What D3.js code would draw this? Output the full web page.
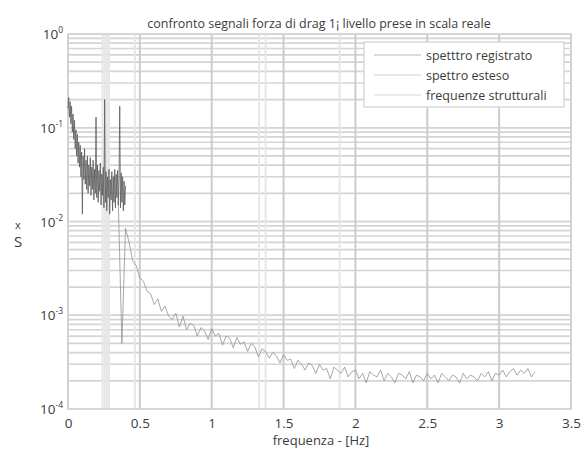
<!DOCTYPE html>
<meta charset="utf-8">
<style>
body { margin: 0; background: #fff; }
svg { display: block; }
text { font-family: "Open Sans", "Liberation Sans", sans-serif; fill: #3c3c3c; }
</style>
<body>
<script src="https://cdn.jsdelivr.net/npm/d3@7"></script>
<script>

// recorded spectrum (0 - 0.4 Hz)
var recFreq = [0,0.005,0.01,0.015,0.02,0.025,0.03,0.035,0.04,0.045,0.05,0.055,0.06,0.065,0.07,0.075,0.08,0.085,0.09,0.095,
  0.1,0.105,0.11,0.115,0.12,0.125,0.13,0.135,0.14,0.145,0.15,0.155,0.16,0.165,0.17,0.175,0.18,0.185,0.19,0.195,
  0.2,0.205,0.21,0.215,0.22,0.225,0.23,0.235,0.24,0.245,0.25,0.255,0.26,0.265,0.27,0.275,0.28,0.285,0.29,0.295,
  0.3,0.305,0.31,0.315,0.32,0.325,0.33,0.335,0.34,0.345,0.35,0.355,0.36,0.365,0.37,0.375,0.38,0.385,0.39,0.395,0.4];
var recVal = [0.16,0.21,0.13,0.19,0.11,0.17,0.09,0.14,0.075,0.12,0.06,0.095,0.05,0.085,0.042,0.07,0.038,0.065,0.03,0.055,
  0.012,0.05,0.028,0.06,0.025,0.045,0.022,0.05,0.02,0.04,0.024,0.048,0.019,0.038,0.022,0.045,0.017,0.036,0.02,0.13,
  0.018,0.04,0.016,0.035,0.021,0.042,0.015,0.032,0.019,0.038,0.014,0.2,0.016,0.034,0.013,0.03,0.018,0.036,0.012,0.028,
  0.017,0.034,0.013,0.03,0.016,0.036,0.014,0.032,0.018,0.035,0.015,0.03,0.17,0.014,0.033,0.016,0.03,0.013,0.027,0.015,0.024];

// extended spectrum (0.35 - 3.25 Hz)
var extFreq = [0.35,0.375,0.4,0.425,0.45,0.475,0.5,0.525,0.55,0.575,0.6,0.625,0.65,0.675,0.7,0.725,0.75,0.775,0.8,0.825,
  0.85,0.875,0.9,0.925,0.95,0.975,1,1.025,1.05,1.075,1.1,1.125,1.15,1.175,1.2,1.225,1.25,1.275,1.3,1.325,
  1.35,1.375,1.4,1.425,1.45,1.475,1.5,1.525,1.55,1.575,1.6,1.625,1.65,1.675,1.7,1.725,1.75,1.775,1.8,1.825,
  1.85,1.875,1.9,1.925,1.95,1.975,2,2.025,2.05,2.075,2.1,2.125,2.15,2.175,2.2,2.225,2.25,2.275,2.3,2.325,
  2.35,2.375,2.4,2.425,2.45,2.475,2.5,2.525,2.55,2.575,2.6,2.625,2.65,2.675,2.7,2.725,2.75,2.775,2.8,2.825,
  2.85,2.875,2.9,2.925,2.95,2.975,3,3.025,3.05,3.075,3.1,3.125,3.15,3.175,3.2,3.225,3.25];
var extVal = [0.016,0.0005,0.0085,0.006,0.0038,0.0034,0.0025,0.0023,0.0018,0.0017,0.0013,0.0015,0.0011,0.00125,0.00098,0.0009,0.00105,0.00075,0.00098,0.0007,
  0.00082,0.00078,0.0006,0.00074,0.00068,0.00055,0.00072,0.0006,0.00064,0.00048,0.0006,0.00057,0.00045,0.00058,0.00049,0.00052,0.00041,0.0005,0.00046,0.00036,
  0.00044,0.00041,0.00035,0.0004,0.00037,0.00031,0.00038,0.00033,0.00034,0.00027,0.00033,0.0003,0.00026,0.00031,0.00029,0.00024,0.0003,0.00026,0.00027,0.00021,
  0.00028,0.00026,0.00024,0.00028,0.00022,0.00025,0.00026,0.00021,0.00024,0.00019,0.00025,0.00023,0.00022,0.00026,0.0002,0.00024,0.00022,0.00019,0.00024,0.00023,
  0.00021,0.00025,0.00019,0.00023,0.00022,0.0002,0.00024,0.00021,0.00023,0.00019,0.00024,0.00022,0.0002,0.00023,0.00022,0.00019,0.00024,0.00021,0.00023,0.00022,
  0.0002,0.00024,0.00022,0.00025,0.0002,0.00024,0.00023,0.00026,0.00022,0.00025,0.00027,0.00023,0.00026,0.00024,0.00027,0.00022,0.00025];

// structural frequencies
var strFreq = [0.24,0.255,0.27,0.285,0.465,1.33,1.375,1.89];

var xTicks = [0,0.5,1,1.5,2,2.5,3,3.5];
var xTickLabels = ["0","0.5","1","1.5","2","2.5","3","3.5"];
var yDecades = [1,0.1,0.01,0.001,0.0001];
var yExponents = ["0","-1","-2","-3","-4"];
var legendLabels = ["spetttro registrato","spettro esteso","frequenze strutturali"];

var width = 582, height = 450;
var pLeft = 68, pRight = 571, pTop = 34, pBottom = 409;

var svg = d3.select("body").append("svg")
  .attr("width", width)
  .attr("height", height);

var x = d3.scaleLinear().domain([0, 3.5]).range([pLeft, pRight]);
var y = d3.scaleLog().domain([1e-4, 1]).range([pBottom, pTop]);

// horizontal grid (decades + minor)
var hLines = [];
[1e-4, 1e-3, 1e-2, 1e-1].forEach(function(d) {
  for (var m = 1; m <= 10; m++) hLines.push(d * m);
});
svg.append("g").selectAll("line")
  .data(hLines)
  .enter().append("line")
  .attr("x1", pLeft).attr("x2", pRight)
  .attr("y1", function(d) { return y(d); })
  .attr("y2", function(d) { return y(d); })
  .attr("stroke", "#d4d4d4")
  .attr("stroke-width", 1.7);

// structural frequency lines
svg.append("g").selectAll("line")
  .data(strFreq)
  .enter().append("line")
  .attr("x1", function(d) { return x(d); })
  .attr("x2", function(d) { return x(d); })
  .attr("y1", pTop).attr("y2", pBottom)
  .attr("stroke", "#e6e6e6")
  .attr("stroke-width", 2);

// vertical grid
svg.append("g").selectAll("line")
  .data(xTicks)
  .enter().append("line")
  .attr("x1", function(d) { return x(d); })
  .attr("x2", function(d) { return x(d); })
  .attr("y1", pTop).attr("y2", pBottom)
  .attr("stroke", "#cccccc")
  .attr("stroke-width", 2);

// frame
svg.append("rect")
  .attr("x", pLeft).attr("y", pTop)
  .attr("width", pRight - pLeft).attr("height", pBottom - pTop)
  .attr("fill", "none")
  .attr("stroke", "#d4d4d4")
  .attr("stroke-width", 1.5);

var line = d3.line()
  .x(function(d) { return x(d[0]); })
  .y(function(d) { return y(d[1]); });

svg.append("path")
  .datum(extFreq.map(function(f, i) { return [f, extVal[i]]; }))
  .attr("d", line)
  .attr("fill", "none")
  .attr("stroke", "#909090")
  .attr("stroke-width", 0.8);

svg.append("path")
  .datum(recFreq.map(function(f, i) { return [f, recVal[i]]; }))
  .attr("d", line)
  .attr("fill", "none")
  .attr("stroke", "#5a5a5a")
  .attr("stroke-width", 0.8);

// x axis
var xAxis = svg.append("g")
  .attr("transform", "translate(0," + pBottom + ")")
  .call(d3.axisBottom(x).tickValues(xTicks).tickSize(0).tickPadding(9)
    .tickFormat(function(d, i) { return xTickLabels[i]; }));
xAxis.select(".domain").remove();
xAxis.selectAll("text")
  .style("font-family", "'Open Sans', sans-serif")
  .style("font-size", "13.5px")
  .attr("fill", "#3c3c3c");

// y labels 10^n
var yl = svg.append("g").selectAll("text")
  .data(yDecades)
  .enter().append("text")
  .attr("x", 63)
  .attr("y", function(d) { return y(d) + 5; })
  .attr("text-anchor", "end")
  .style("font-size", "13.5px");
yl.append("tspan").text("10");
yl.append("tspan")
  .attr("dy", -6)
  .style("font-size", "8.5px")
  .text(function(d, i) { return yExponents[i]; });

// title
svg.append("text")
  .attr("x", 319).attr("y", 28)
  .attr("text-anchor", "middle")
  .style("font-size", "12.5px")
  .text("confronto segnali forza di drag 1\u00a1 livello prese in scala reale");

// axis labels
svg.append("text")
  .attr("x", 321).attr("y", 445)
  .attr("text-anchor", "middle")
  .style("font-size", "13px")
  .text("frequenza - [Hz]");
svg.append("text")
  .attr("x", 18).attr("y", 229)
  .attr("text-anchor", "middle")
  .style("font-size", "11px")
  .text("x");
svg.append("text")
  .attr("x", 18).attr("y", 247)
  .attr("text-anchor", "middle")
  .style("font-size", "15px")
  .text("S");

// legend
var legend = svg.append("g").attr("transform", "translate(364,42)");
legend.append("rect")
  .attr("width", 200).attr("height", 65)
  .attr("fill", "#fff")
  .attr("stroke", "#d0d0d0")
  .attr("stroke-width", 1.2);
var legendColors = ["#b8b8b8", "#d0d0d0", "#d8d8d8"];
var li = legend.selectAll(".legend")
  .data(legendLabels)
  .enter().append("g")
  .attr("class", "legend")
  .attr("transform", function(d, i) { return "translate(0," + (13 + i * 20) + ")"; });
li.append("line")
  .attr("x1", 10).attr("x2", 57)
  .attr("stroke", function(d, i) { return legendColors[i]; })
  .attr("stroke-width", 1.2);
li.append("text")
  .attr("x", 62).attr("y", 4.5)
  .style("font-size", "12.5px")
  .text(function(d) { return d; });

</script>
</body>
